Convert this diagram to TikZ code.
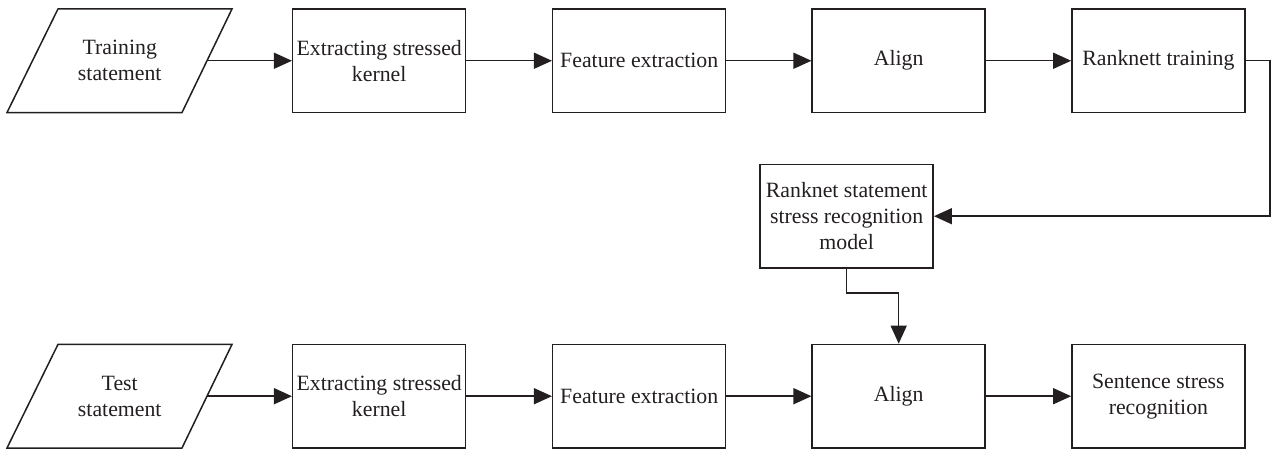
\documentclass[tikz,border=0pt]{standalone}
\usepackage{fontspec}
\setmainfont{Liberation Serif}
\usetikzlibrary{arrows.meta,calc}
\definecolor{ink}{RGB}{35,31,32}
\begin{document}
\begin{tikzpicture}[x=0.5pt,y=-0.5pt,
  every node/.style={text=ink,font=\fontsize{10.9}{13}\selectfont,align=center,inner sep=0pt},
  box/.style={draw=ink,line width=0.75pt,minimum width=86.5pt,minimum height=51.8pt},
  iotext/.style={minimum width=87.25pt,minimum height=51.8pt},
  link/.style={draw=ink,line width=0.75pt,-{Triangle[length=9pt,width=8pt]}},
  edge/.style={draw=ink,line width=0.75pt,line join=miter}]
\useasboundingbox (0,0) rectangle (1271,449);

% training row
\node[iotext] (ts) at (119.75,60.75) {Training\\statement};
\node[box] (ek1) at (379.2,60.75) {Extracting stressed\\kernel};
\node[box] (fe1) at (639.2,60.75) {Feature extraction};
\node[box] (al1) at (898.7,60.75) {Align};
\node[box] (rt) at (1158.4,60.75) {Ranknett training};

% model
\node[box] (rm) at (846.7,216.2) {Ranknet statement\\stress recognition\\model};

% test row
\node[iotext] (tt) at (119.75,396.2) {Test\\statement};
\node[box] (ek2) at (379.2,396.2) {Extracting stressed\\kernel};
\node[box] (fe2) at (639.2,396.2) {Feature extraction};
\node[box] (al2) at (898.7,396.2) {Align};
\node[box] (sr) at (1158.4,396.2) {Sentence stress\\recognition};

% input parallelograms
\foreach \n in {ts,tt}{
  \draw[edge] ($(\n.center)+(-30.875pt,25.9pt)$) -- ($(\n.center)+(56.125pt,25.9pt)$)
    -- ($(\n.center)+(31.125pt,-25.9pt)$) -- ($(\n.center)+(-56.375pt,-25.9pt)$) -- cycle;
}

% connectors
\draw[link] (ts.east) -- (ek1.west);
\draw[link] (ek1) -- (fe1);
\draw[link] (fe1) -- (al1);
\draw[link] (al1) -- (rt);
\coordinate (c1) at (1270.2,60.75);
\coordinate (c2) at (1270.2,216.2);
\draw[link] (rt.east) -- (c1) -- (c2) -- (rm.east);
\coordinate (c3) at (846.7,293);
\coordinate (c4) at (898.7,293);
\draw[link] (rm.south) -- (c3) -- (c4) -- (al2.north);

\draw[link] (tt.east) -- (ek2.west);
\draw[link] (ek2) -- (fe2);
\draw[link] (fe2) -- (al2);
\draw[link] (al2) -- (sr);
\end{tikzpicture}
\end{document}
